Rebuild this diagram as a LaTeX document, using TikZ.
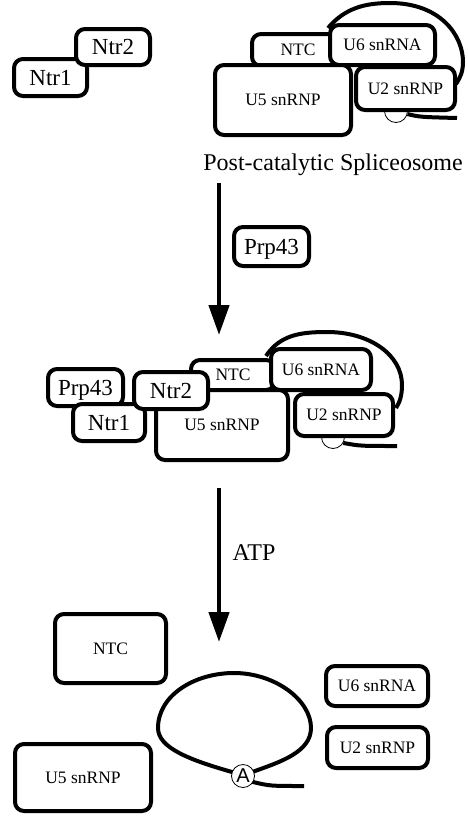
\documentclass[tikz,border=0pt]{standalone}
\usepackage{fontspec}
\setmainfont{Liberation Serif}
\newfontfamily\adenfont{Liberation Sans}
\usetikzlibrary{arrows.meta}

\begin{document}
\begin{tikzpicture}[x=1pt,y=-1pt,
  caixa/.style={draw,line width=4pt,rounded corners=9pt,fill=white,inner sep=0pt,text depth=0pt,font=\fontsize{17.5pt}{18pt}\selectfont},
  fator/.style={caixa,font=\fontsize{23pt}{24pt}\selectfont},
  tam/.style 2 args={minimum width=#1pt,minimum height=#2pt},
  rotulo/.style={anchor=base,inner sep=0pt,font=\fontsize{24pt}{24pt}\selectfont},
  rna/.style={line width=4pt},
  aden/.style={circle,draw,line width=0.8pt,fill=white,inner sep=0pt,minimum size=23pt,font=\adenfont\fontsize{20pt}{20pt}\selectfont},
  seta/.style={line width=4.5pt,-{Triangle[length=30pt,width=20pt]}}]
  \useasboundingbox (0,0) rectangle (467,817);

  %spliceossomo pos-catalitico
  \draw[rna] (328,28) .. controls (345,8) and (365,3) .. (390,3) .. controls (440,3) and (463,35) .. (463,62) .. controls (463,72) and (460,78) .. (456,84);
  \node[aden] (adenA) at (396,111) {};
  \draw[rna] (adenA.-15) .. controls (420,117) .. (457,118);

  \node[fator,tam={73}{37}] (ntrA1) at (50.5,77.5) {Ntr1};
  \node[fator,tam={74}{36}] (ntrA2) at (113,47) {Ntr2};

  \node[caixa,tam={92}{32}] (ntcA) at (298,50) {NTC};
  \node[caixa,tam={105}{40}] (u6A) at (382.5,45) {U6 snRNA};
  \node[caixa,tam={136}{70}] (u5A) at (283,100) {U5 snRNP};
  \node[caixa,tam={99}{43}] (u2A) at (405.5,88.5) {U2 snRNP};
  \node[rotulo] (titulo) at (333,170) {Post-catalytic Spliceosome};

  %primeira seta
  \coordinate (setaA1) at (219,183);
  \coordinate (setaA2) at (219,335);
  \draw[seta] (setaA1) -- (setaA2);
  \node[fator,tam={75}{39}] (prp) at (271.5,246.5) {Prp43};

  %complexo com Prp43
  \draw[rna] (266,356) .. controls (280,335) and (300,332) .. (327,332) .. controls (370,332) and (402,355) .. (402,385) .. controls (402,395) and (400,402) .. (396,408);
  \node[aden] (adenB) at (333,437) {};
  \draw[rna] (adenB.-30) .. controls (360,446) .. (397,446);

  \node[fator,tam={75}{37}] (prpB) at (85.5,387.5) {Prp43};
  \node[fator,tam={72}{37}] (ntrB1) at (109,422.5) {Ntr1};
  \node[caixa,tam={84}{30}] (ntcB) at (233,375) {NTC};
  \node[caixa,tam={100}{41}] (u6B) at (321,369.5) {U6 snRNA};
  \node[caixa,tam={132}{70}] (u5B) at (222,425) {U5 snRNP};
  \node[caixa,tam={98}{42}] (u2B) at (344,415) {U2 snRNP};
  \node[fator,tam={74}{37}] (ntrB2) at (171,390.5) {Ntr2};

  %segunda seta
  \coordinate (setaB1) at (219,488);
  \coordinate (setaB2) at (219,642);
  \draw[seta] (setaB1) -- (setaB2);
  \node[rotulo] (atp) at (254,560) {ATP};

  %desmontagem
  \node[caixa,tam={111}{69}] (ntcC) at (110.5,648.5) {NTC};
  \node[caixa,tam={102}{40}] (u6C) at (377,686) {U6 snRNA};
  \node[caixa,tam={101}{41}] (u2C) at (377.5,747.5) {U2 snRNP};
  \node[caixa,tam={136}{67}] (u5C) at (83,777.5) {U5 snRNP};

  %laco
  \coordinate (centroC) at (243,776);
  \draw[rna] (centroC) -- (232,772) .. controls (190,760) and (158,748) .. (158,728) .. controls (158,695) and (195,673) .. (234,673) .. controls (275,673) and (311,700) .. (311,728) .. controls (311,752) and (280,762) .. (255,771) -- (centroC);
  \draw[rna] (centroC) -- (253,782) .. controls (270,786) .. (304,786);
  \node[aden] (adenC) at (centroC) {A};

\end{tikzpicture}
\end{document}
